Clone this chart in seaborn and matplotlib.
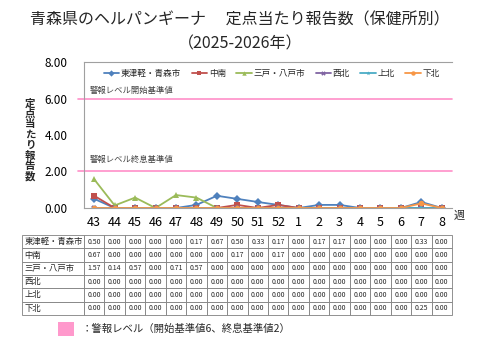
import numpy as np
import pandas as pd
import matplotlib
matplotlib.use('Agg')
import matplotlib.pyplot as plt
from matplotlib.patches import Rectangle
import seaborn as sns

# 週（2025年43週〜2026年8週）
weeks = ['43', '44', '45', '46', '47', '48', '49', '50', '51', '52',
         '1', '2', '3', '4', '5', '6', '7', '8']

# 保健所別 定点当たり報告数
areas = ['東津軽・青森市', '中南', '三戸・八戸市', '西北', '上北', '下北']
higashi_tsugaru = [0.50, 0.00, 0.00, 0.00, 0.00, 0.17, 0.67, 0.50, 0.33, 0.17,
                   0.00, 0.17, 0.17, 0.00, 0.00, 0.00, 0.33, 0.00]
chunan = [0.67, 0.00, 0.00, 0.00, 0.00, 0.00, 0.00, 0.17, 0.00, 0.17,
          0.00, 0.00, 0.00, 0.00, 0.00, 0.00, 0.00, 0.00]
sannohe = [1.57, 0.14, 0.57, 0.00, 0.71, 0.57, 0.00, 0.00, 0.00, 0.00,
           0.00, 0.00, 0.00, 0.00, 0.00, 0.00, 0.00, 0.00]
seihoku = [0.00] * 18
kamikita = [0.00] * 18
shimokita = [0.00, 0.00, 0.00, 0.00, 0.00, 0.00, 0.00, 0.00, 0.00, 0.00,
             0.00, 0.00, 0.00, 0.00, 0.00, 0.00, 0.25, 0.00]
series = [higashi_tsugaru, chunan, sannohe, seihoku, kamikita, shimokita]

# 警報レベル
alarm_start = 6
alarm_end = 2

colors = ['#4F81BD', '#C0504D', '#9BBB59', '#8064A2', '#4BACC6', '#F79646']
markers = ['D', 's', '^', 'X', '*', 'o']
pink = '#FF8FC8'

sns.set_theme(style='white')
plt.rcParams['font.family'] = ['Noto Sans CJK JP', 'DejaVu Sans']

W, H = 480, 360
fig = plt.figure(figsize=(4.8, 3.6), dpi=100)

def px(x0, y0, x1, y1):
    return [x0 / W, 1 - y1 / H, (x1 - x0) / W, (y1 - y0) / H]

ax = fig.add_axes(px(84, 62, 452, 208))
pos = np.arange(len(weeks))

for name, vals, c, m in zip(areas, series, colors, markers):
    sns.lineplot(x=pos, y=vals, ax=ax, color=c, marker=m, markersize=4,
                 linewidth=1.3, mew=0, label=name)

for lvl in (alarm_start, alarm_end):
    ax.axhline(lvl, xmin=-0.016, xmax=1, color=pink, lw=1.2, clip_on=False, zorder=1)
ax.text(-0.2, alarm_start + 0.45, '警報レベル開始基準値', fontsize=6, color='#404040', va='center')
ax.text(-0.2, alarm_end + 0.65, '警報レベル終息基準値', fontsize=6, color='#404040', va='center')

ax.set_xlim(-0.5, len(weeks) - 0.5)
ax.set_ylim(0, 8)
ax.set_yticks([0, 2, 4, 6, 8])
ax.set_yticklabels([f'{v:.2f}' for v in [0, 2, 4, 6, 8]], fontsize=8.5)
ax.set_xticks(pos)
ax.set_xticklabels(weeks, fontsize=9)
ax.set_xticks(np.arange(-0.5, len(weeks)), minor=True)
ax.tick_params(axis='x', which='major', length=0, pad=6, colors='black')
ax.tick_params(axis='x', which='minor', length=4, color='#A0A0A0', width=0.8, direction='out')
ax.tick_params(axis='y', length=4, color='#A0A0A0', width=0.8, direction='out', pad=8)
ax.tick_params(axis='both', labelcolor='black')
for s in ['left', 'bottom', 'top']:
    ax.spines[s].set_color('#A0A0A0')
    ax.spines[s].set_linewidth(0.8)
ax.spines['right'].set_visible(False)
ax.set_xlabel('')
ax.set_ylabel('')
ax.text(1.005, -0.05, '週', transform=ax.transAxes, fontsize=8, va='center', ha='left')

ax.legend(ncol=6, loc='upper center', bbox_to_anchor=(0.51, 1.0), frameon=False,
          fontsize=6.2, handlelength=1.8, handletextpad=0.2, columnspacing=1.2,
          markerscale=0.8, borderaxespad=0.4)

# 縦書きラベル
fig.text(30 / W, 1 - 140 / H, '\n'.join('定点当たり報告数'), fontsize=7.5,
         ha='center', va='center', linespacing=1.05, fontweight='bold')

# タイトル
fig.text(0.5, 1 - 20 / H, '青森県のヘルパンギーナ　 定点当たり報告数（保健所別）',
         fontsize=11.5, ha='center', va='center')
fig.text(0.5, 1 - 44 / H, '（2025-2026年）', fontsize=11.5, ha='center', va='center')

# データ表
tax = fig.add_axes(px(22, 235, 452, 315))
tax.axis('off')
cell_text = [[name] + [f'{v:.2f}' for v in vals] for name, vals in zip(areas, series)]
col_w = [62 / 430] + [(368 / 18) / 430] * len(weeks)
tbl = tax.table(cellText=cell_text, colWidths=col_w, bbox=[0, 0, 1, 1], cellLoc='center')
tbl.auto_set_font_size(False)
for (r, c), cell in tbl.get_celld().items():
    cell.set_edgecolor('#808080')
    cell.set_linewidth(0.6)
    cell.get_text().set_fontsize(5 if c > 0 else 6)
    if c == 0:
        cell.get_text().set_ha('left')
        cell.PAD = 0.04

# 警報レベル凡例
fig.patches.append(Rectangle((58 / W, 1 - 336 / H), 16 / W, 14 / H, transform=fig.transFigure,
                             facecolor='#FF99CC', edgecolor='none'))
fig.text(82 / W, 1 - 329 / H, '：警報レベル（開始基準値6、終息基準値2）', fontsize=7.5,
         ha='left', va='center')

fig.savefig('out.png', dpi=100)
